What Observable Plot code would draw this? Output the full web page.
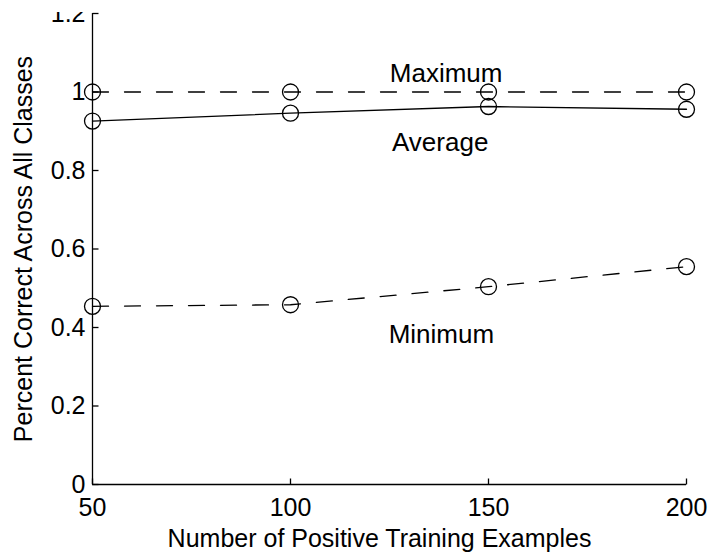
<!DOCTYPE html>
<html>
<head>
<meta charset="utf-8">
<script src="https://cdn.jsdelivr.net/npm/d3@7"></script>
<script src="https://cdn.jsdelivr.net/npm/@observablehq/plot@0.6"></script>
<style>
  html, body { margin: 0; padding: 0; background: #fff; }
  #chart { width: 714px; height: 554px; padding-top: 12px; box-sizing: border-box; overflow: hidden; }
  #chart svg { overflow: hidden; display: block; }
</style>
</head>
<body>
<div id="chart"></div>
<script>
const xValues = [50, 100, 150, 200];
const maxValues = [1, 1, 1, 1];
const avgValues = [0.926, 0.946, 0.963, 0.956];
const minValues = [0.454, 0.458, 0.504, 0.555];

const xTicks = [50, 100, 150, 200];
const yTicks = [0, 0.2, 0.4, 0.6, 0.8, 1, 1.2];

const labelText = ["Maximum", "Average", "Minimum"];
const labelX = [139.3, 137.8, 138.1];
const labelY = [1.047, 0.872, 0.383];

const xTitle = "Number of Positive Training Examples";
const yTitle = "Percent Correct Across All Classes";

const toRows = (vals) => xValues.map((x, i) => ({x, y: vals[i]}));
const maxRows = toRows(maxValues);
const avgRows = toRows(avgValues);
const minRows = toRows(minValues);
const labels = labelText.map((t, i) => ({t, x: labelX[i], y: labelY[i]}));

const fmt = d => String(+d.toFixed(1));
const black = "#000";

// inward tick glyphs drawn as custom dot symbols
const tickRight = {draw(ctx) { ctx.moveTo(0, 0); ctx.lineTo(6, 0); }};
const tickUp = {draw(ctx) { ctx.moveTo(0, 0); ctx.lineTo(0, -6); }};

const chart = Plot.plot({
  width: 714,
  height: 542,
  marginTop: 1,
  marginBottom: 70,
  marginLeft: 92,
  marginRight: 28,
  style: {fontFamily: "'Liberation Sans', Arial, sans-serif", fontSize: "25px", color: "#000", background: "#fff"},
  x: {domain: [50, 200]},
  y: {domain: [0, 1.2]},
  marks: [
    Plot.axisX({ticks: xTicks, tickSize: 0, tickPadding: 14, tickFormat: d => String(d), label: null, fontSize: 25}),
    Plot.axisY({ticks: yTicks, tickSize: 0, tickPadding: 7, tickFormat: fmt, label: yTitle, labelAnchor: "center", labelArrow: "none", labelOffset: 78, fontSize: 25}),
    Plot.text([xTitle], {text: d => d, frameAnchor: "bottom", lineAnchor: "middle", dy: 54, dx: -10, fontSize: 25, fill: black}),
    Plot.ruleY([0], {stroke: black, strokeWidth: 1.3}),
    Plot.ruleX([50], {stroke: black, strokeWidth: 1.3}),
    Plot.dot(yTicks, {x: () => 50, y: d => d, symbol: tickRight, stroke: black, fill: "none", strokeWidth: 1.3}),
    Plot.dot(xTicks, {x: d => d, y: () => 0, symbol: tickUp, stroke: black, fill: "none", strokeWidth: 1.3}),
    Plot.line(maxRows, {x: "x", y: "y", stroke: black, strokeWidth: 1.3, strokeDasharray: "16,16"}),
    Plot.line(avgRows, {x: "x", y: "y", stroke: black, strokeWidth: 1.3}),
    Plot.line(minRows, {x: "x", y: "y", stroke: black, strokeWidth: 1.3, strokeDasharray: "16,16"}),
    Plot.dot(maxRows, {x: "x", y: "y", r: 8, stroke: black, strokeWidth: 1.3, fill: "none"}),
    Plot.dot(avgRows, {x: "x", y: "y", r: 8, stroke: black, strokeWidth: 1.3, fill: "none"}),
    Plot.dot(minRows, {x: "x", y: "y", r: 8, stroke: black, strokeWidth: 1.3, fill: "none"}),
    Plot.text(labels, {x: "x", y: "y", text: "t", fill: black, fontSize: 26, textAnchor: "middle", lineAnchor: "middle"})
  ]
});
document.getElementById("chart").appendChild(chart);
</script>
</body>
</html>
